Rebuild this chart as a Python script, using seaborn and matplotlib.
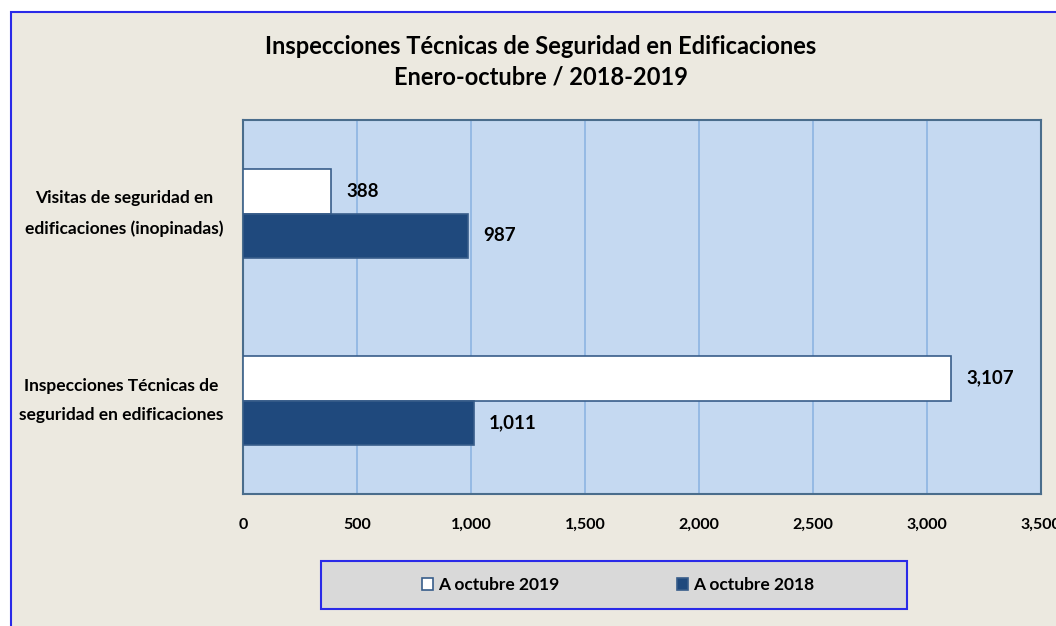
import matplotlib
matplotlib.use("Agg")
import matplotlib.pyplot as plt
from matplotlib.patches import Rectangle, Patch
import seaborn as sns
import pandas as pd

# --- DATOS ---
categorias = ["Visitas de seguridad en\nedificaciones (inopinadas)",
              "Inspecciones Técnicas de\nseguridad en edificaciones"]
periodos = ["A octubre 2019", "A octubre 2018"]
valores_2019 = [388, 3107]
valores_2018 = [987, 1011]
ticks_x = [0, 500, 1000, 1500, 2000, 2500, 3000, 3500]

BG = "#ECE9E0"
AZUL = "#1F497D"
BORDE = "#385D8A"
MARCO = "#2A2AE8"

df = pd.DataFrame({
    "categoria": categorias * 2,
    "periodo": [periodos[0]] * 2 + [periodos[1]] * 2,
    "valor": valores_2019 + valores_2018,
})

sns.set_style("white")
plt.rcParams["font.family"] = ["Lato", "DejaVu Sans"]
plt.rcParams.update({"text.color": "black", "xtick.color": "black",
                     "ytick.color": "black", "xtick.labelcolor": "black",
                     "ytick.labelcolor": "black"})

fig = plt.figure(figsize=(10.56, 6.26), dpi=100, facecolor="white")
# marco exterior
fig.patches.append(Rectangle((11 / 1056, -0.1), 1.2, 1.1 - 12 / 626,
                             transform=fig.transFigure, facecolor=BG,
                             edgecolor=MARCO, linewidth=1.5, zorder=-10))

ax = fig.add_axes([243 / 1056, 132 / 626, 798 / 1056, 374 / 626])
ax.set_facecolor("#C5D9F1")

sns.barplot(data=df, y="categoria", x="valor", hue="periodo",
            hue_order=periodos, order=categorias, orient="h",
            palette={periodos[0]: "white", periodos[1]: AZUL}, saturation=1,
            width=0.48, edgecolor=BORDE, linewidth=1.2,
            legend=False, ax=ax, zorder=3)

for cont in ax.containers:
    ax.bar_label(cont, labels=[f"{v:,.0f}" for v in cont.datavalues],
                 padding=11, fontsize=13.5, fontweight="bold", color="black")

ax.set_xlim(0, 3500)
ax.set_ylim(1.5, -0.5)
ax.set_xticks(ticks_x)
ax.set_xticklabels([f"{t:,}" for t in ticks_x], fontweight="bold", fontsize=11.5)
ax.tick_params(axis="x", length=0, pad=17, labelcolor="black")
ax.tick_params(axis="y", length=0, pad=14, labelcolor="black")
for lbl in ax.get_yticklabels():
    lbl.set_fontweight("bold")
    lbl.set_fontsize(12.5)
    lbl.set_multialignment("center")
    lbl.set_linespacing(2.0)
    lbl.set_va("center")
ax.xaxis.grid(True, color="#8DB4E2", linewidth=1.2, zorder=0)
ax.set_axisbelow(True)
ax.set_xlabel("")
ax.set_ylabel("")
for s in ax.spines.values():
    s.set_color("#4A6D8C")
    s.set_linewidth(1.5)

fig.text(541 / 1056, 1 - 46 / 626, "Inspecciones Técnicas de Seguridad en Edificaciones",
         ha="center", va="center", fontsize=17, fontweight="bold")
fig.text(541 / 1056, 1 - 77 / 626, "Enero-octubre / 2018-2019",
         ha="center", va="center", fontsize=17, fontweight="bold")

# caja de la leyenda
fig.patches.append(Rectangle((321 / 1056, 1 - 609 / 626), 586 / 1056, 48 / 626,
                             transform=fig.transFigure, facecolor="#D9D9D9",
                             edgecolor=MARCO, linewidth=1.5, zorder=1))
handles = [Patch(facecolor="white", edgecolor=BORDE, linewidth=1.2),
           Patch(facecolor=AZUL, edgecolor=BORDE, linewidth=1.2)]
leg = fig.legend(handles, periodos, loc="center",
                 bbox_to_anchor=(618 / 1056, 1 - 585 / 626),
                 ncol=2, frameon=False, handlelength=0.6,
                 handleheight=0.7, handletextpad=0.3, columnspacing=6.8,
                 prop={"weight": "bold", "size": 12.5})
leg.set_zorder(5)

fig.savefig("out.png", dpi=100, facecolor=fig.get_facecolor())
